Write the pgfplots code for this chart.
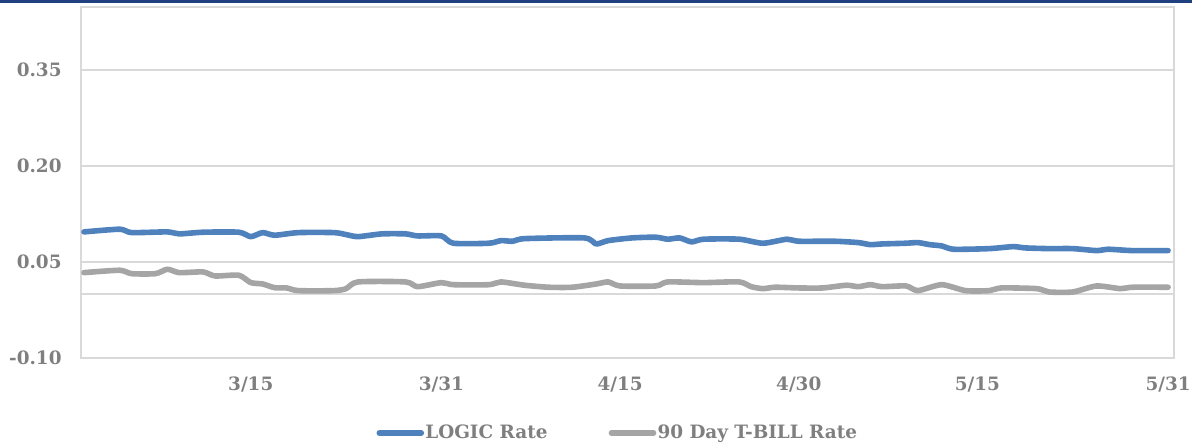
\documentclass[border=0pt]{standalone}
\usepackage{pgfplots}
\pgfplotsset{compat=1.18}
\usepackage{fontspec}
\setmainfont{DejaVu Serif}
\definecolor{logicblue}{HTML}{4F81BD}
\definecolor{tbillgray}{HTML}{A5A5A5}
\definecolor{gridgray}{HTML}{D9D9D9}
\definecolor{labelgray}{HTML}{7F7F7F}
\definecolor{navybar}{HTML}{1F3F7F}
\begin{document}
\begin{tikzpicture}
\path[use as bounding box] (0,0) rectangle (596pt,-223.5pt);
\fill[navybar] (0,0) rectangle (596pt,-1.4pt);
\begin{axis}[
  at={(40.5pt,-179pt)}, anchor=south west,
  scale only axis, width=546.5pt, height=175.5pt,
  xmin=-0.25, xmax=91.5, ymin=-0.10, ymax=0.448,
  axis line style={draw=gridgray, line width=0.8pt},
  xtick={14,30,45,60,75,91},
  xticklabels={3/15,3/31,4/15,4/30,5/15,5/31},
  ytick={-0.10,0.05,0.20,0.35},
  yticklabels={-0.10,0.05,0.20,0.35},
  extra y ticks={0}, extra y tick labels={},
  extra y tick style={grid=major},
  ymajorgrids,
  grid style={draw=gridgray, line width=0.8pt},
  major tick length=0pt,
  ticklabel style={font=\fontsize{9.2pt}{10pt}\selectfont\bfseries, text=labelgray, inner sep=0pt},
  yticklabel style={anchor=east, xshift=-9.5pt},
  xticklabel style={anchor=center, yshift=-13.5pt},
  legend columns=2,
  legend style={draw=none, fill=none, at={(0.2700,-0.2137)}, anchor=west,
    font=\fontsize{9.2pt}{10pt}\selectfont\bfseries, text=labelgray,
    inner sep=0pt, nodes={inner sep=0.6pt},
    /tikz/every even column/.append style={column sep=30pt}},
  legend image code/.code={\draw[#1, line width=2.8pt, line cap=round] (0pt,0pt) -- (21pt,0pt);},
]
\addplot[logicblue, line width=2.8pt, smooth, tension=0.4, line cap=round, line join=round] coordinates {
(0,0.0969) (3,0.1011) (4,0.0958) (7,0.0969) (8,0.0938) (10,0.0964) (13,0.0964)
(14,0.0895) (15,0.0958) (16,0.0917) (18,0.0958) (21,0.0958) (22,0.0927) (23,0.0895)
(25,0.0938) (27,0.0938) (28,0.0906) (30,0.0906) (31,0.0792) (34,0.0792) (35,0.0833)
(36,0.0823) (37,0.0864) (42,0.0875) (43,0.0781) (44,0.0833) (46,0.0875) (48,0.0886)
(49,0.0855) (50,0.0875) (51,0.0813) (52,0.0855) (55,0.0855) (57,0.0792) (59,0.0855)
(60,0.0823) (63,0.0823) (65,0.0802) (66,0.0770) (67,0.0781) (69,0.0792) (70,0.0802)
(71,0.0770) (72,0.0750) (73,0.0698) (76,0.0708) (78,0.0739) (79,0.0719) (81,0.0708)
(83,0.0708) (85,0.0677) (86,0.0698) (88,0.0677) (91,0.0677)
};
\addlegendentry{LOGIC Rate}
\addplot[tbillgray, line width=2.8pt, smooth, tension=0.4, line cap=round, line join=round] coordinates {
(0,0.0333) (3,0.0370) (4,0.0317) (6,0.0317) (7,0.0386) (8,0.0333) (10,0.0344)
(11,0.0281) (13,0.0292) (14,0.0177) (15,0.0156) (16,0.0098) (17,0.0094) (18,0.0052)
(21,0.0052) (22,0.0083) (23,0.0188) (27,0.0188) (28,0.0114) (30,0.0177) (31,0.0145)
(34,0.0145) (35,0.0188) (37,0.0136) (39,0.0105) (41,0.0105) (43,0.0156) (44,0.0188)
(45,0.0125) (48,0.0125) (49,0.0188) (52,0.0177) (55,0.0188) (56,0.0114) (57,0.0083)
(58,0.0105) (60,0.0094) (62,0.0094) (64,0.0136) (65,0.0114) (66,0.0145) (67,0.0114)
(69,0.0125) (70,0.0052) (72,0.0145) (74,0.0052) (76,0.0052) (77,0.0094) (80,0.0083)
(81,0.0031) (83,0.0031) (85,0.0125) (87,0.0083) (88,0.0105) (91,0.0105)
};
\addlegendentry{90 Day T-BILL Rate}
\end{axis}
\end{tikzpicture}
\end{document}
